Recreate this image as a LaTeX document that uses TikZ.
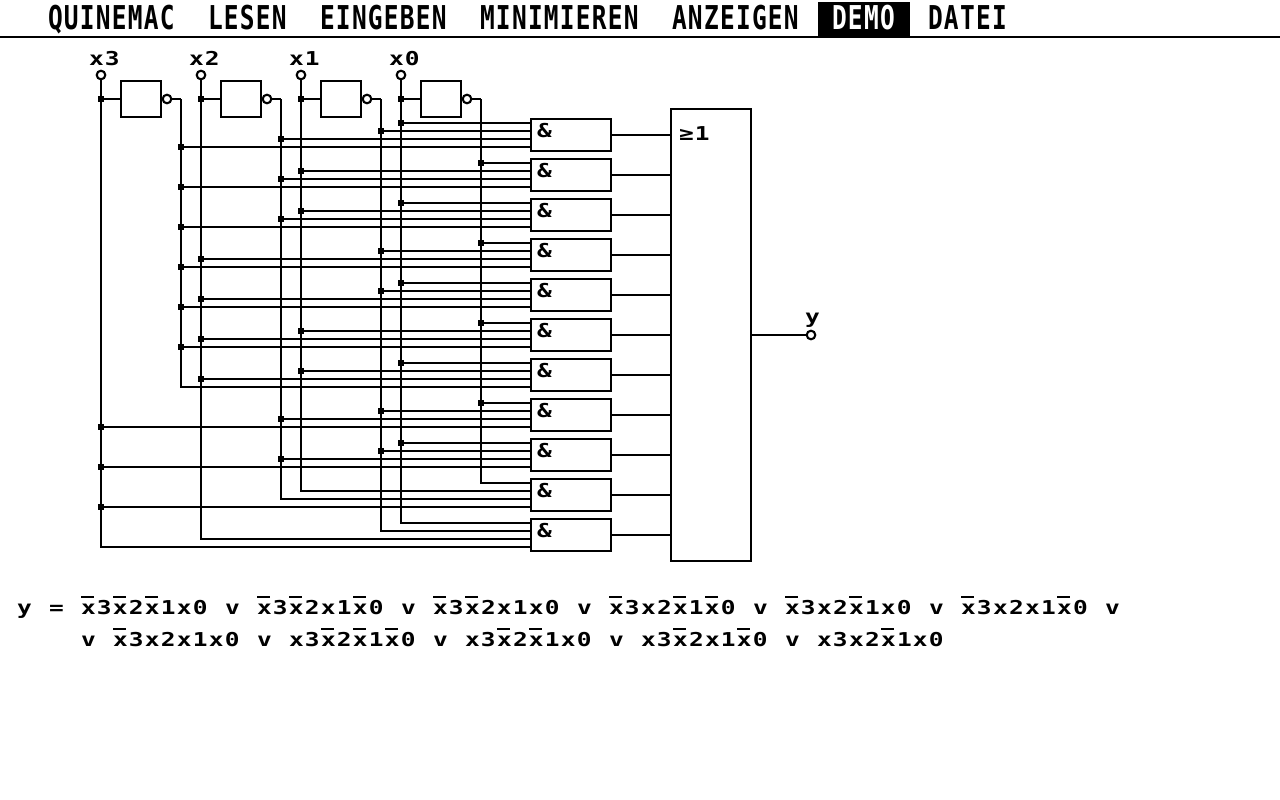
\documentclass[tikz,border=0pt]{standalone}
\usepackage{graphicx}
\usepackage{fontspec}
\newfontfamily\crtfont[LetterSpace=5.1]{DejaVu Sans Mono}
\newcommand{\crtsmall}[1]{\scalebox{1}[0.78]{\crtfont\bfseries\fontsize{24.5}{30}\selectfont #1}}
\newcommand{\crtmenu}[1]{\scalebox{1}[1.34]{\crtfont\bfseries\fontsize{24.5}{30}\selectfont #1}}
\tikzset{
  wire/.style={line width=2.3pt,black},
  textnode/.style={anchor=base west,inner sep=0pt,outer sep=0pt,text=black},
  terminal/.style={circle,draw=black,line width=2.1pt,fill=white,minimum size=8.6pt,inner sep=0pt,outer sep=0pt},
  junction/.style={rectangle,fill=black,minimum size=6.4pt,inner sep=0pt,outer sep=0pt},
  inverter/.style={rectangle,draw=black,line width=2.3pt,fill=white,minimum width=40pt,minimum height=36pt,inner sep=0pt,outer sep=0pt},
  andgate/.style={rectangle,draw=black,line width=2.3pt,fill=white,minimum width=80pt,minimum height=32pt,inner sep=0pt,outer sep=0pt},
  orgate/.style={rectangle,draw=black,line width=2.3pt,fill=white,minimum width=80pt,minimum height=452pt,inner sep=0pt,outer sep=0pt},
  bar/.style={fill=black,draw=none}
}
\begin{document}
\begin{tikzpicture}[x=1pt,y=-1pt]
\useasboundingbox (0,0) rectangle (1280,800);
\fill[white] (0,0) rectangle (1280,800);
% menu bar
\fill[black] (818,2) rectangle (910,37);
\draw[wire] (0,37) -- (1280,37);
\foreach \mx/\mt in {48/QUINEMAC,208/LESEN,320/EINGEBEN,480/MINIMIEREN,672/ANZEIGEN,928/DATEI}{
  \node[textnode] (menu\mt) at (\mx,30) {\crtmenu{\mt}};
}
\node[textnode,text=white] (menuDEMO) at (832,30) {\crtmenu{DEMO}};
% inputs, inverters
\foreach \i/\x in {3/101,2/201,1/301,0/401}{
  \pgfmathtruncatemacro{\bx}{\x+40}
  \pgfmathtruncatemacro{\cx}{\x+66}
  \pgfmathtruncatemacro{\nx}{\x+80}
  \pgfmathtruncatemacro{\lx}{\x-12}
  \node[textnode] (lab\i) at (\lx,66) {\crtsmall{x\i}};
  \node[terminal] (a\i) at (\x,75) {};
  \node[inverter] (i\i) at (\bx,99) {};
  \node[terminal] (b\i) at (\cx,99) {};
  \coordinate (n\i) at (\nx,99);
  \node[junction] (ja\i) at (a\i |- i\i) {};
  \draw[wire] (ja\i) -- (i\i.west);
  \draw[wire] (b\i.east) -- (n\i);
}
% gates
\foreach \g/\yc in {1/135,2/175,3/215,4/255,5/295,6/335,7/375,8/415,9/455,10/495,11/535}{
  \node[andgate] (g\g) at (571,\yc) {};
  \pgfmathtruncatemacro{\ly}{\yc+2}
  \node[textnode] (amp\g) at (537,\ly) {\crtsmall{\&}};
}
\node[orgate] (or) at (711,335) {};
\node[textnode] (orlab) at (679,140) {\crtsmall{≥1}};
\foreach \g in {1,...,11}{
  \draw[wire] (g\g.east) -- (g\g.east -| or.west);
}
\node[terminal] (y) at (811,335) {};
\node[textnode] (ylab) at (805,323) {\crtsmall{y}};
\draw[wire] (or.east |- y) -- (y.west);
% input wires ending on a bus end
\foreach \s/\y in {n3/387,n0/483,a1/491,n2/499,a0/523,n1/531,a2/539,a3/547}{
  \coordinate (w\y) at (531,\y);
  \draw[wire] (\s) |- (w\y);
}
% input wires tapped from a bus
\foreach \s/\y in {
  a0/123,n1/131,n2/139,n3/147,
  n0/163,a1/171,n2/179,n3/187,
  a0/203,a1/211,n2/219,n3/227,
  n0/243,n1/251,a2/259,n3/267,
  a0/283,n1/291,a2/299,n3/307,
  n0/323,a1/331,a2/339,n3/347,
  a0/363,a1/371,a2/379,
  n0/403,n1/411,n2/419,a3/427,
  a0/443,n1/451,n2/459,a3/467,
  a3/507}{
  \coordinate (w\y) at (531,\y);
  \node[junction] (t\y) at (\s |- w\y) {};
  \draw[wire] (t\y) -- (w\y);
}
% formula
\node[textnode] (fy) at (17,614) {\crtsmall{y}};
\node[textnode] (feq) at (49,614) {\crtsmall{=}};
\foreach \x in {81,257,433,609,785,961}{
  \node[textnode] (ft\x) at (\x,614) {\crtsmall{x3x2x1x0}};
}
\foreach \x in {225,401,577,753,929,1105}{
  \node[textnode] (fv\x) at (\x,614) {\crtsmall{v}};
}
\foreach \x in {113,289,465,641,817}{
  \node[textnode] (gt\x) at (\x,646) {\crtsmall{x3x2x1x0}};
}
\foreach \x in {81,257,433,609,785}{
  \node[textnode] (gv\x) at (\x,646) {\crtsmall{v}};
}
\foreach \bx in {81,113,145, 257,289,353, 433,465, 609,673,705, 785,849, 961,1057}{
  \fill[bar] (\bx,596) rectangle ++(13,2);
}
\foreach \bx in {113, 321,353,385, 497,529, 673,737, 881}{
  \fill[bar] (\bx,628) rectangle ++(13,2);
}
\end{tikzpicture}
\end{document}
